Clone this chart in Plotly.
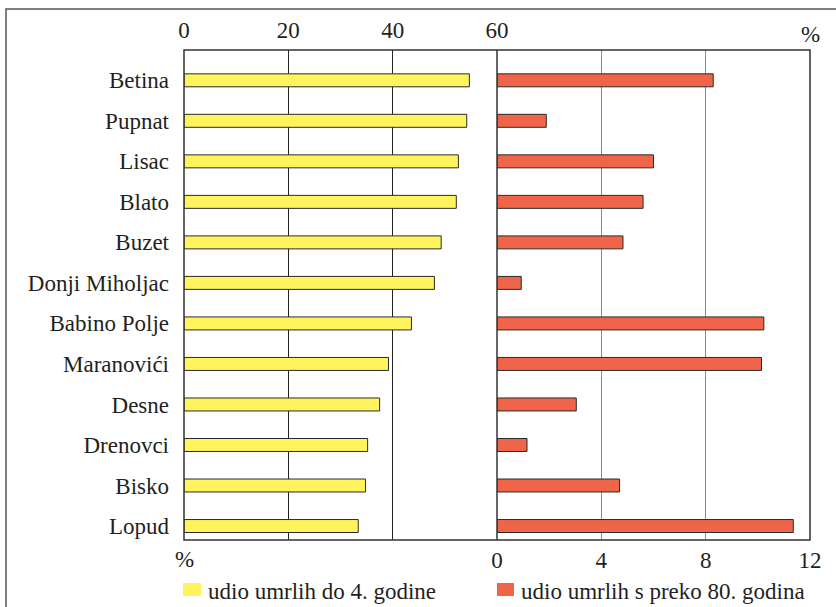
import plotly.graph_objects as go

places = ["Betina", "Pupnat", "Lisac", "Blato", "Buzet", "Donji Miholjac",
          "Babino Polje", "Maranovići", "Desne", "Drenovci", "Bisko", "Lopud"]
under4 = [54.7, 54.2, 52.6, 52.2, 49.3, 48.0, 43.6, 39.2, 37.5, 35.2, 34.8, 33.4]
over80 = [8.29, 1.89, 6.0, 5.6, 4.83, 0.93, 10.23, 10.14, 3.04, 1.15, 4.70, 11.36]
left_ticks = [0, 20, 40, 60]
right_ticks = [0, 4, 8, 12]
legend_names = ["udio umrlih do 4. godine", "udio umrlih s preko 80. godina"]

YELLOW = "#FFF45E"
RED = "#F0654A"
EDGE = "#2a2a2a"
TXT = "#231f20"
FONT = "'Liberation Serif', 'Times New Roman', 'DejaVu Serif', serif"
FS = 23

fig = go.Figure()
fig.add_trace(go.Bar(y=places, x=under4, orientation="h", xaxis="x", yaxis="y",
                     width=0.32, marker=dict(color=YELLOW, line=dict(color=EDGE, width=1)),
                     name=legend_names[0], showlegend=False))
fig.add_trace(go.Bar(y=places, x=over80, orientation="h", xaxis="x2", yaxis="y",
                     width=0.32, marker=dict(color=RED, line=dict(color=EDGE, width=1)),
                     name=legend_names[1], showlegend=False))

W, H = 836, 607
L, R, T, B = 184, 26, 50, 67
pw, ph = W - L - R, H - T - B

def px(xpix):
    return (xpix - L) / pw

def py(ypix):
    return (H - B - ypix) / ph

shapes = [
    # outer page frame
    dict(type="rect", xref="paper", yref="paper", x0=px(6), x1=px(900), y0=py(650), y1=py(9),
         line=dict(color="#555555", width=1.5), layer="below"),
    # plot frame
    dict(type="rect", xref="paper", yref="paper", x0=0, x1=1, y0=0, y1=1,
         line=dict(color="#333333", width=1.5), layer="above"),
    # middle divider
    dict(type="line", xref="paper", yref="paper", x0=0.5, x1=0.5, y0=0, y1=1,
         line=dict(color="#333333", width=1.5), layer="above"),
    # legend swatches
    dict(type="rect", xref="paper", yref="paper", x0=px(183), x1=px(201), y0=py(596), y1=py(583),
         fillcolor=YELLOW, line=dict(width=0)),
    dict(type="rect", xref="paper", yref="paper", x0=px(497), x1=px(514), y0=py(596), y1=py(583),
         fillcolor=RED, line=dict(width=0)),
]

annotations = [
    dict(text="%", xref="paper", yref="paper", x=1, y=py(34), xanchor="center", yanchor="middle",
         showarrow=False, font=dict(family=FONT, size=FS, color=TXT)),
    dict(text="%", xref="paper", yref="paper", x=0, y=py(559), xanchor="center", yanchor="middle",
         showarrow=False, font=dict(family=FONT, size=FS, color=TXT)),
    dict(text=legend_names[0], xref="paper", yref="paper", x=px(206), y=py(591),
         xanchor="left", yanchor="middle", showarrow=False,
         font=dict(family=FONT, size=FS, color=TXT)),
    dict(text=legend_names[1], xref="paper", yref="paper", x=px(519), y=py(591),
         xanchor="left", yanchor="middle", showarrow=False,
         font=dict(family=FONT, size=FS, color=TXT)),
]

fig.update_layout(
    width=W, height=H,
    margin=dict(l=L, r=R, t=T, b=B, pad=0),
    paper_bgcolor="white", plot_bgcolor="white",
    font=dict(family=FONT, size=FS, color=TXT),
    showlegend=False,
    bargap=0,
    xaxis=dict(domain=[0, 0.5], range=[0, 60], side="top", anchor="y",
               tickvals=left_ticks, ticktext=[str(v) for v in left_ticks],
               showgrid=True, gridcolor="#222222", gridwidth=1, zeroline=False,
               showline=False, ticks="", ticklabelstandoff=6,
               tickfont=dict(family=FONT, size=FS, color=TXT)),
    xaxis2=dict(domain=[0.5, 1], range=[0, 12], side="bottom", anchor="y",
                tickvals=right_ticks, ticktext=[str(v) for v in right_ticks],
                showgrid=True, gridcolor="#8a8a8a", gridwidth=1.5, zeroline=False,
                showline=False, ticks="", ticklabelstandoff=4,
                tickfont=dict(family=FONT, size=FS, color=TXT)),
    yaxis=dict(type="category", categoryorder="array", categoryarray=places,
               range=[11.345, -0.748], showgrid=False, zeroline=False, showline=False,
               ticks="", ticklabelstandoff=14,
               tickfont=dict(family=FONT, size=FS, color=TXT)),
    shapes=shapes,
    annotations=annotations,
)

fig.write_html("out.html",
               config={"displayModeBar": False, "staticPlot": True},
               post_script="document.body.style.margin='0';document.body.style.overflow='hidden';")
